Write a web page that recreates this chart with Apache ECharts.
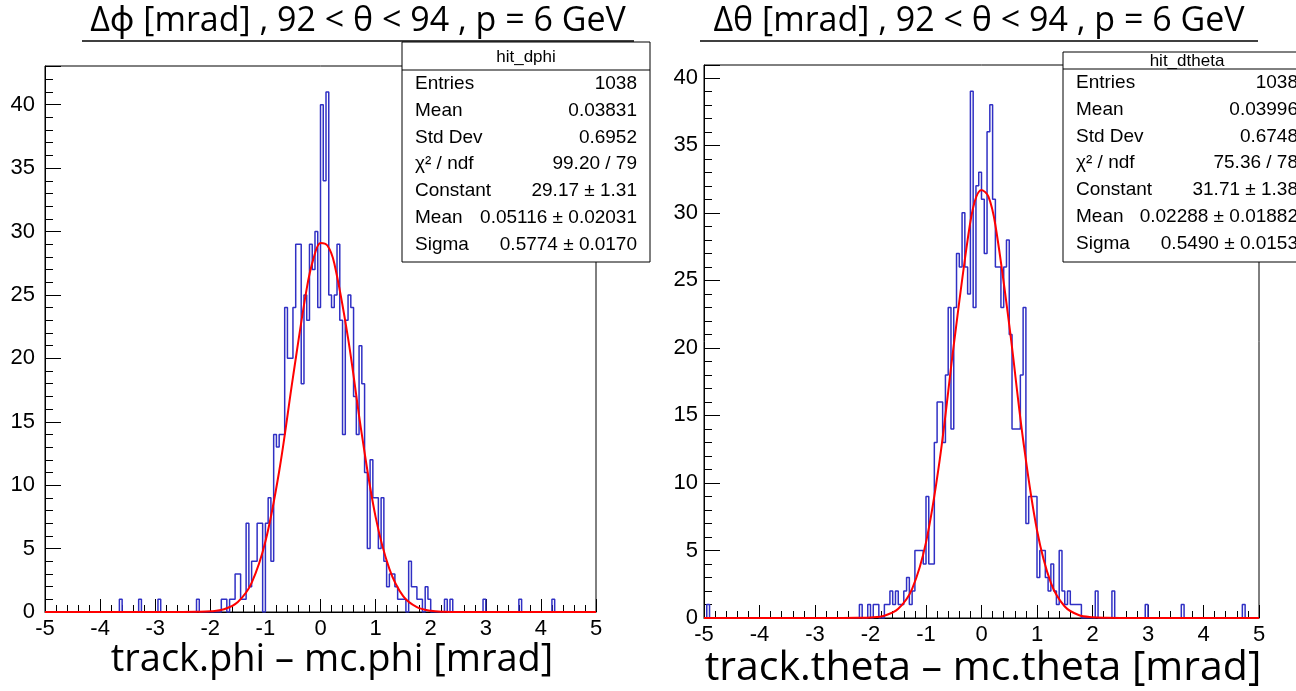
<!DOCTYPE html>
<html>
<head>
<meta charset="utf-8">
<script src="https://cdn.jsdelivr.net/npm/echarts@6/dist/echarts.min.js"></script>
<style>
html,body{margin:0;padding:0;background:#fff;}
#chart{width:1296px;height:691px;}
</style>
</head>
<body>
<div id="chart"></div>
<script>
// ---------- data ----------
// histogram bins: 200 bins from -5 to 5 (width 0.05)
const xTickLabels = ['-5','-4','-3','-2','-1','0','1','2','3','4','5'];
const yTickLabels = ['0','5','10','15','20','25','30','35','40'];

// left panel: track.phi - mc.phi
const phiCoreStart = -1.80;
const phiCore = [1,1,0,1,1,3,3,1,1,7,2,4,4,7,7,0,7,9,4,
                 14,13,14,14,24,20,20,24,29,29,18,25,23,29,27,30,24,
                 40,34,41,25,24,25,29,23,14,23,25,24,17,14,21,18,11,5,12,9,
                 9,5,9,4,2,3,3,2,1,1,1,0,4,2,2,1,1,0,2,1];
const phiOutlierEdges  = [-3.65,-3.30,-2.95,-2.25,2.25,2.35,2.95,3.60,4.20];
const phiOutlierCounts = [1,1,1,1,1,1,1,1,1];
const phiFitX = [-5,-2.5,-2.25,-2.0,-1.75,-1.5,-1.25,-1.0,-0.75,-0.5,-0.25,-0.125,0,0.125,0.25,0.5,0.75,1.0,1.25,1.5,1.75,2.0,2.25,2.5,5];
const phiFitY = [0,0,0.01,0.05,0.22,0.79,2.3,5.55,11.1,18.5,25.5,27.9,29.1,28.9,27.5,21.6,14.0,7.5,3.4,1.25,0.38,0.1,0.02,0,0];
const phiStats = [['Entries','1038'],['Mean','0.03831'],['Std Dev','0.6952'],['χ² / ndf','99.20 / 79'],
                  ['Constant','29.17 ± 1.31'],['Mean','0.05116 ± 0.02031'],['Sigma','0.5774 ± 0.0170']];

// right panel: track.theta - mc.theta
const thetaCoreStart = -1.75;
const thetaCore = [1,1,2,1,2,1,1,2,3,1,2,
                   5,5,5,4,9,4,4,13,16,16,13,18,23,14,23,27,
                   26,30,26,24,39,23,32,33,
                   31,27,36,38,31,26,26,23,26,28,21,14,14,14,18,23,7,9,9,9,
                   3,5,5,3,2,4,2,1,5,2,1,2,1,1,1,1];
const thetaOutlierEdges  = [-4.95,-2.20,-2.05,-1.95,-1.90,2.05,2.35,2.95,3.60,4.70];
const thetaOutlierCounts = [1,1,1,1,1,2,2,1,1,1];
const thetaFitX = [-5,-2.5,-2.25,-2.0,-1.75,-1.5,-1.25,-1.0,-0.75,-0.5,-0.25,-0.125,0,0.125,0.25,0.5,0.75,1.0,1.25,1.5,1.75,2.0,2.25,2.5,5];
const thetaFitY = [0,0,0.01,0.04,0.17,0.68,2.16,5.6,11.8,20.2,28.0,30.8,31.7,31.2,29.1,21.7,13.2,6.5,2.6,0.85,0.22,0.05,0.01,0,0];
const thetaStats = [['Entries','1038'],['Mean','0.03996'],['Std Dev','0.6748'],['χ² / ndf','75.36 / 78'],
                    ['Constant','31.71 ± 1.38'],['Mean','0.02288 ± 0.01882'],['Sigma','0.5490 ± 0.0153']];

// ---------- build ----------
const NB = 200, LO = -5, W = 0.05;
function r3(v){ return Math.round(v*1000)/1000; }
function buildCounts(start, core, oe, oc){
  const c = new Array(NB).fill(0);
  const s = Math.round((start - LO)/W);
  core.forEach((v,i)=>{ c[s+i] += v; });
  oe.forEach((e,i)=>{ c[Math.round((e - LO)/W)] += oc[i]; });
  return c;
}
function outline(c){
  const pts = [];
  for(let i=0;i<NB;i++){
    const e = r3(LO + W*i);
    pts.push([e, c[i]], [r3(e + W), c[i]]);
  }
  return pts;
}
const phiHist = outline(buildCounts(phiCoreStart, phiCore, phiOutlierEdges, phiOutlierCounts));
const thetaHist = outline(buildCounts(thetaCoreStart, thetaCore, thetaOutlierEdges, thetaOutlierCounts));
const phiFit = phiFitX.map((x,i)=>[x, phiFitY[i]]);
const thetaFit = thetaFitX.map((x,i)=>[x, thetaFitY[i]]);

const FONT = '"Liberation Sans", Arial, sans-serif';
const SLIDE = '"Open Sans", "Noto Sans", sans-serif';

function xAxis(gi){
  return {
    type:'value', gridIndex:gi, min:-5, max:5, interval:1,
    axisLine:{show:true, onZero:false, lineStyle:{color:'#000', width:1}},
    axisTick:{show:true, inside:true, length:13, lineStyle:{color:'#000'}},
    minorTick:{show:true, splitNumber:5, length:7, lineStyle:{color:'#000'}},
    splitLine:{show:false}, minorSplitLine:{show:false},
    axisLabel:{color:'#000', fontFamily:FONT, fontSize:22, margin:6,
      formatter:(v)=>xTickLabels[Math.round(v+5)]}
  };
}
function yAxis(gi, max, margin){
  return {
    type:'value', gridIndex:gi, min:0, max:max, interval:5,
    axisLine:{show:true, onZero:false, lineStyle:{color:'#000', width:1}},
    axisTick:{show:true, inside:true, length:16, lineStyle:{color:'#000'}},
    minorTick:{show:true, splitNumber:5, length:8, lineStyle:{color:'#000'}},
    splitLine:{show:false}, minorSplitLine:{show:false},
    axisLabel:{color:'#000', fontFamily:FONT, fontSize:22, margin:margin, showMaxLabel:false,
      formatter:(v)=>{ const k = Math.round(v/5); return (Math.abs(v-5*k)<1e-6 && k<yTickLabels.length) ? yTickLabels[k] : ''; }}
  };
}

function statsBox(x, top, headerY, bottom, width, name, rows){
  const els = [];
  els.push({type:'rect', shape:{x:x, y:top, width:width, height:bottom-top},
            style:{fill:'#fff', stroke:'#000', lineWidth:1}, z:100});
  els.push({type:'line', shape:{x1:x, y1:headerY, x2:x+width, y2:headerY},
            style:{stroke:'#000', lineWidth:1}, z:101});
  els.push({type:'text', x:x+width/2, y:(top+headerY)/2+1, z:102,
            style:{text:name, font:'17px '+FONT, fill:'#000', align:'center', verticalAlign:'middle'}});
  const rowY0 = headerY + 13.5, dy = 26.9;
  rows.forEach((r,i)=>{
    els.push({type:'text', x:x+13, y:rowY0+dy*i, z:102,
      style:{text:r[0], font:'19px '+FONT, fill:'#000', align:'left', verticalAlign:'middle'}});
    els.push({type:'text', x:x+width-13, y:rowY0+dy*i, z:102,
      style:{text:r[1], font:'19px '+FONT, fill:'#000', align:'right', verticalAlign:'middle'}});
  });
  return els;
}

const chart = echarts.init(document.getElementById('chart'), null, {renderer:'canvas'});
const option = {
  animation:false,
  backgroundColor:'#fff',
  grid:[
    {left:45, top:66, width:551, height:546, show:true, borderColor:'#000', borderWidth:1, backgroundColor:'transparent'},
    {left:704, top:65, width:555, height:553, show:true, borderColor:'#000', borderWidth:1, backgroundColor:'transparent'}
  ],
  xAxis:[xAxis(0), xAxis(1)],
  yAxis:[yAxis(0, 43.05, 10), yAxis(1, 40.95, 6)],
  series:[
    {type:'line', xAxisIndex:0, yAxisIndex:0, data:phiHist, symbol:'none', clip:true,
     lineStyle:{color:'#3030c4', width:1.5}, z:3},
    {type:'line', xAxisIndex:0, yAxisIndex:0, data:phiFit, symbol:'none', smooth:0.35, clip:true,
     lineStyle:{color:'#ff0000', width:2}, z:4},
    {type:'line', xAxisIndex:1, yAxisIndex:1, data:thetaHist, symbol:'none', clip:true,
     lineStyle:{color:'#3030c4', width:1.5}, z:3},
    {type:'line', xAxisIndex:1, yAxisIndex:1, data:thetaFit, symbol:'none', smooth:0.35, clip:true,
     lineStyle:{color:'#ff0000', width:2}, z:4}
  ],
  graphic:[
    {type:'text', x:358, y:21, z:110, style:{text:'Δϕ [mrad] , 92 < θ < 94 , p = 6 GeV', font:'34px '+SLIDE, fill:'#000', align:'center', verticalAlign:'middle'}},
    {type:'line', shape:{x1:82, y1:41, x2:634, y2:41}, style:{stroke:'#000', lineWidth:1.5}, z:110},
    {type:'text', x:979, y:21, z:110, style:{text:'Δθ [mrad] , 92 < θ < 94 , p = 6 GeV', font:'34px '+SLIDE, fill:'#000', align:'center', verticalAlign:'middle'}},
    {type:'line', shape:{x1:700, y1:41, x2:1258, y2:41}, style:{stroke:'#000', lineWidth:1.5}, z:110},
    {type:'text', x:332, y:660, z:110, style:{text:'track.phi – mc.phi [mrad]', font:'38px '+SLIDE, fill:'#000', align:'center', verticalAlign:'middle'}},
    {type:'text', x:983, y:668, z:110, style:{text:'track.theta – mc.theta [mrad]', font:'41px '+SLIDE, fill:'#000', align:'center', verticalAlign:'middle'}},
    ...statsBox(402, 42, 70, 262, 248, 'hit_dphi', phiStats),
    ...statsBox(1063, 52, 69, 262, 248, 'hit_dtheta', thetaStats)
  ]
};
chart.setOption(option);
</script>
</body>
</html>
